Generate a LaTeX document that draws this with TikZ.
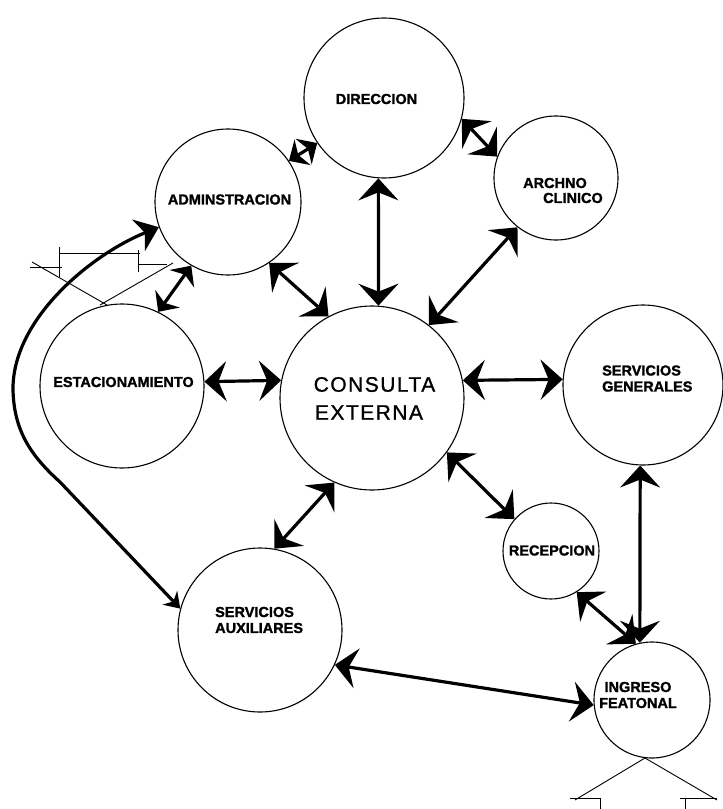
\documentclass[tikz,border=0pt]{standalone}
\usepackage{fontspec}
\setmainfont{Liberation Sans}
\usetikzlibrary{arrows.meta}
\begin{document}
\begin{tikzpicture}[x=1pt,y=-1pt,
  place/.style={circle,draw,line width=1.1pt,minimum size=#1,inner sep=0pt},
  lbl/.style={font=\fontsize{14.5}{16}\selectfont\bfseries\addfontfeatures{FakeBold=1.5},inner sep=0pt,align=left},
  bigtxt/.style={font=\fontsize{21}{27}\selectfont\addfontfeatures{LetterSpace=7,FakeBold=1},inner sep=0pt},
  link/.style={line width=3.2pt,{Stealth[length=22pt,width=40pt,inset=8pt]}-{Stealth[length=22pt,width=40pt,inset=8pt]}},
  shortlink/.style={line width=3.2pt,{Stealth[length=16pt,width=30pt,inset=5pt]}-{Stealth[length=16pt,width=30pt,inset=5pt]}},
  thinline/.style={line width=0.9pt}]
\useasboundingbox (0,0) rectangle (723,809);

% circles
\node[place=160pt] (dir) at (384,98) {};
\node[place=146pt] (adm) at (228,202) {};
\node[place=124pt] (arc) at (556,178) {};
\node[place=164pt] (est) at (122,386) {};
\node[place=184pt] (con) at (372,398) {};
\node[place=160pt] (sg)  at (643,385) {};
\node[place=96pt]  (rec) at (551,551) {};
\node[place=164pt] (sa)  at (260,630) {};
\node[place=116pt] (ing) at (652,700) {};

% labels
\node[lbl] (tdir) at (376.5,99) {DIRECCION};
\node[lbl] (tadm) at (229.5,199.5) {ADMINSTRACION};
\node[lbl] (tarc1) at (555,183) {ARCHNO};
\node[lbl] (tarc2) at (573,198) {CLINICO};
\node[lbl] (test) at (123.5,382) {ESTACIONAMIENTO};
\node[bigtxt] (tcon1) at (374.5,384.5) {CONSULTA};
\node[bigtxt] (tcon2) at (369,412.5) {EXTERNA};
\node[lbl,anchor=west] (tsg) at (602,378.5) {SERVICIOS\\GENERALES};
\node[lbl] (trec) at (552,550.5) {RECEPCION};
\node[lbl,anchor=west] (tsa) at (215,620) {SERVICIOS\\AUXILIARES};
\node[lbl,align=center] (ting) at (638,695) {INGRESO\\FEATONAL};

% connectors
\draw[shortlink] (adm.34) -- (dir.214);
\draw[link] (dir.-15) -- (arc.160);
\draw[link] (dir.-94) -- (con.86);
\draw[link] (arc.232) -- (con.52);
\draw[link] (adm.-56) -- (con.118);
\draw[shortlink] (adm.-120) -- (est.64);
\draw[link] (est.3) -- (con.169);
\draw[link] (con.11) -- (sg.176);
\draw[link] (con.-114) -- (sa.80);
\draw[link] (con.-36) -- (rec.139);
\draw[link] (rec.-58) -- (ing.106);
\draw[link] (sg.-92) -- (ing.102);
\draw[link] (sa.-25) -- (ing.185);

% long curved connector
\draw[line width=3.2pt,{Stealth[length=22pt,width=34pt,inset=7pt]}-{Stealth[length=15pt,width=20pt,inset=5pt]}]
  (adm.200) .. controls (90,255) and (12,320) .. (13,390)
  .. controls (14,430) and (30,455) .. (60,482) -- (sa.165);

% sketch lines upper left
\draw[thinline] (30,267) -- (62,267);
\draw[thinline] (59,247) -- (59,277);
\draw[thinline] (59,253) -- (140,253);
\draw[thinline] (138,250) -- (138,272);
\draw[thinline] (138,264) -- (167,264);
\draw[thinline] (32,262) -- (107,305);
\draw[thinline] (100,305) -- (173,263);

% sketch lines bottom
\coordinate (apex) at (645,758);
\draw[thinline] (apex) -- (575,800);
\draw[thinline] (apex) -- (717,800);
\draw[thinline] (570,798) -- (600,798) -- (600,809);
\draw[thinline] (680,798) -- (717,798);
\draw[thinline] (685,798) -- (685,809);
\end{tikzpicture}
\end{document}
